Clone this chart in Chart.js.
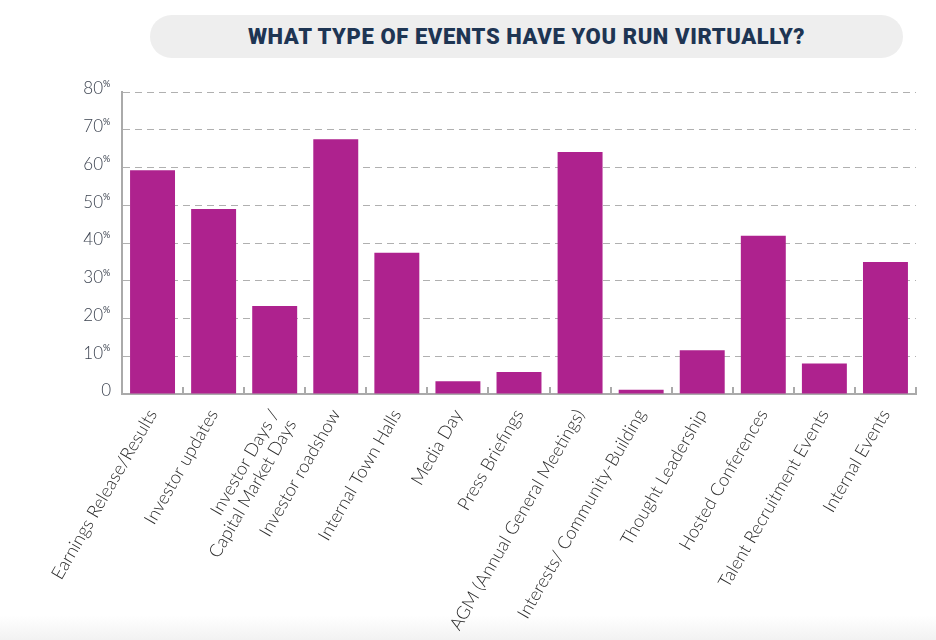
<!DOCTYPE html>
<html lang="en">
<head>
  <meta charset="UTF-8" />
  <title>What type of events have you run virtually?</title>
  <script src="https://cdn.jsdelivr.net/npm/chart.js"></script>
  <style>
    html, body {
      margin: 0;
      width: 936px;
      height: 640px;
      overflow: hidden;
      background: #ffffff;
      font-family: 'Lato', sans-serif;
    }

    .wrap {
      position: relative;
      width: 936px;
      height: 640px;
      background: linear-gradient(to bottom, #ffffff 0, #ffffff 615px, #f2f2f2 640px);
    }

    .title-pill {
      position: absolute;
      left: 150px;
      top: 15px;
      width: 753px;
      height: 43px;
      border-radius: 22px;
      background: #eeeeee;
      color: #1e3553;
      font-family: 'Roboto', sans-serif;
      font-weight: 900;
      font-size: 22px;
      letter-spacing: 0.6px;
      line-height: 44px;
      text-align: center;
    }

    canvas {
      position: absolute;
      left: 0;
      top: 0;
    }
  </style>
</head>
<body>
  <div class="wrap">
    <div class="title-pill">WHAT TYPE OF EVENTS HAVE YOU RUN VIRTUALLY?</div>
    <canvas id="eventsChart" width="936" height="640"></canvas>
  </div>

  <script>
    const categories = [
      'Earnings Release/Results',
      'Investor updates',
      ['Investor Days /', 'Capital Market Days'],
      'Investor roadshow',
      'Internal Town Halls',
      'Media Day',
      'Press Briefings',
      'AGM (Annual General Meetings)',
      'Interests/ Community-Building',
      'Thought Leadership',
      'Hosted Conferences',
      'Talent Recruitment Events',
      'Internal Events'
    ];
    const shares = [59.3, 49, 23.3, 67.5, 37.4, 3.4, 5.8, 64.1, 1.1, 11.6, 41.9, 8.1, 35];
    const yTicks = [0, 10, 20, 30, 40, 50, 60, 70, 80];

    // y labels with a small raised % sign, and the short upward ticks on the x axis
    const axisDecor = {
      id: 'axisDecor',
      afterDraw(chart) {
        const ctx = chart.ctx;
        const y = chart.scales.y;
        const x = chart.scales.x;
        ctx.save();
        ctx.fillStyle = '#3c4350';
        ctx.textBaseline = 'middle';
        yTicks.forEach(v => {
          const py = y.getPixelForValue(v) - 3;
          ctx.font = '300 17px Lato';
          ctx.textAlign = 'right';
          if (v === 0) {
            ctx.fillText('0', 111, py);
            return;
          }
          ctx.fillText(String(v), 103, py);
          ctx.font = '400 9px Lato';
          ctx.textAlign = 'left';
          ctx.fillText('%', 103, py - 5);
        });

        ctx.strokeStyle = '#aaaaaa';
        ctx.lineWidth = 2;
        const half = (x.getPixelForValue(1) - x.getPixelForValue(0)) / 2;
        for (let i = 0; i <= categories.length; i++) {
          const px = Math.round(x.getPixelForValue(i) - half);
          ctx.beginPath();
          ctx.moveTo(px, y.bottom);
          ctx.lineTo(px, y.bottom - 7);
          ctx.stroke();
        }
        ctx.restore();
      }
    };

    new Chart(document.getElementById('eventsChart'), {
      type: 'bar',
      data: {
        labels: categories,
        datasets: [{
          data: shares,
          backgroundColor: '#ae228e',
          barPercentage: 0.92,
          categoryPercentage: 0.8
        }]
      },
      options: {
        responsive: false,
        animation: false,
        layout: { padding: { top: 92, right: 20, left: 0, bottom: 0 } },
        plugins: { legend: { display: false }, tooltip: { enabled: false } },
        scales: {
          x: {
            afterFit(scale) { scale.height = 246; },
            grid: { display: false },
            border: { color: '#aaaaaa', width: 2 },
            ticks: {
              minRotation: 60,
              maxRotation: 60,
              autoSkip: false,
              padding: 4,
              color: '#2b2b2b',
              font: { family: 'Lato', size: 18, weight: '300', lineHeight: 1.1 }
            }
          },
          y: {
            min: 0,
            max: 80,
            afterFit(scale) { scale.width = 122; },
            ticks: { stepSize: 10, display: false },
            grid: {
              color: '#b0b0b0',
              lineWidth: 1,
              drawTicks: false
            },
            border: { color: '#aaaaaa', width: 2, dash: [7, 5] }
          }
        }
      },
      plugins: [axisDecor]
    });
  </script>
</body>
</html>
